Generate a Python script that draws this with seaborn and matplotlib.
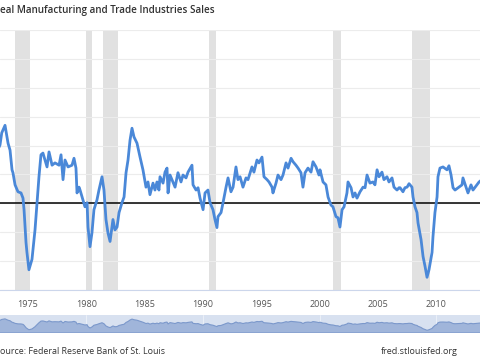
import numpy as np
import pandas as pd
import seaborn as sns
import matplotlib.pyplot as plt

# percent change from year ago
years = [1972.40, 1972.60, 1972.75, 1973.03, 1973.20, 1973.29, 1973.46, 1973.63, 1973.71, 1973.89,
         1974.14, 1974.40, 1974.57, 1974.66, 1974.83, 1974.91, 1975.08, 1975.34, 1975.60, 1975.77,
         1975.94, 1976.11, 1976.28, 1976.63, 1976.80, 1977.06, 1977.31, 1977.66, 1977.83, 1978.00,
         1978.17, 1978.43, 1978.77, 1978.94, 1979.11, 1979.20, 1979.37, 1979.46, 1979.71, 1979.88,
         1980.06, 1980.14, 1980.31, 1980.48, 1980.65, 1980.91, 1981.08, 1981.34, 1981.51, 1981.68,
         1981.85, 1982.03, 1982.20, 1982.28, 1982.45, 1982.63, 1982.80, 1983.05, 1983.23, 1983.40,
         1983.57, 1983.74, 1983.91, 1984.08, 1984.34, 1984.60, 1984.85, 1985.11, 1985.28, 1985.45,
         1985.71, 1985.88, 1986.05, 1986.22, 1986.31, 1986.57, 1986.74, 1986.91, 1987.00, 1987.17,
         1987.42, 1987.60, 1987.85, 1988.11, 1988.28, 1988.54, 1988.71, 1989.05, 1989.14, 1989.40,
         1989.57, 1989.74, 1990.00, 1990.17, 1990.42, 1990.60, 1990.85, 1991.02, 1991.19, 1991.28,
         1991.54, 1991.71, 1991.97, 1992.14, 1992.39, 1992.57, 1992.82, 1992.99, 1993.17, 1993.42,
         1993.68, 1993.85, 1994.19, 1994.36, 1994.62, 1994.79, 1995.05, 1995.22, 1995.48, 1995.65,
         1995.91, 1995.99, 1996.25, 1996.42, 1996.68, 1996.85, 1997.11, 1997.28, 1997.54, 1997.71,
         1997.96, 1998.14, 1998.39, 1998.56, 1998.74, 1998.99, 1999.25, 1999.42, 1999.68, 1999.93,
         2000.02, 2000.28, 2000.53, 2000.71, 2000.96, 2001.13, 2001.39, 2001.56, 2001.73, 2001.91,
         2002.08, 2002.33, 2002.42, 2002.68, 2002.85, 2003.02, 2003.19, 2003.45, 2003.71, 2003.88,
         2004.05, 2004.30, 2004.56, 2004.73, 2004.91, 2005.08, 2005.33, 2005.50, 2005.76, 2005.93,
         2006.19, 2006.36, 2006.62, 2006.79, 2006.88, 2007.13, 2007.30, 2007.48, 2007.65, 2007.90,
         2007.99, 2008.16, 2008.33, 2008.42, 2008.68, 2008.85, 2009.02, 2009.19, 2009.36, 2009.62,
         2009.70, 2009.87, 2010.05, 2010.13, 2010.30, 2010.56, 2010.90, 2011.07, 2011.25, 2011.42,
         2011.59, 2011.85, 2012.19, 2012.27, 2012.53, 2012.70, 2012.96, 2013.13, 2013.47, 2013.65,
         2013.90]
pct_change = [9.2, 10.1, 12.2, 13.5, 11.5, 10.4, 9.2, 5.8, 5.3, 3.2,
              2.0, 1.8, 0.9, -1.1, -6.8, -8.5, -11.5, -9.7, -4.6, 0.1,
              4.6, 8.4, 8.7, 6.3, 8.9, 6.6, 7.0, 6.6, 8.4, 4.1,
              7.5, 6.3, 6.6, 7.8, 6.1, 1.8, 2.8, 2.3, 0.6, -0.6,
              0.1, -4.1, -7.5, -5.1, -1.1, 0.6, 2.3, 4.6, 2.3, -2.8,
              -5.1, -6.6, -4.1, -2.8, -4.6, -4.1, -1.6, 0.1, 1.1, 5.3,
              7.5, 10.9, 13.0, 11.5, 10.4, 8.0, 5.8, 2.8, 3.7, 1.5,
              3.5, 2.3, 3.7, 2.3, 4.6, 3.5, 5.4, 6.1, 1.8, 4.9,
              3.7, 2.8, 5.3, 3.7, 4.9, 4.4, 5.4, 6.6, 3.2, 2.3,
              2.7, 0.9, -1.1, 1.8, 2.3, 0.1, -1.1, -2.8, -4.2, -2.3,
              -1.6, 0.1, 2.8, 4.4, 2.0, 2.8, 6.3, 4.1, 4.6, 2.8,
              4.4, 4.1, 6.3, 5.4, 7.5, 7.0, 8.0, 4.6, 4.1, 3.7,
              2.8, 1.8, 3.5, 4.9, 4.1, 4.9, 7.0, 6.1, 7.8, 7.2,
              6.6, 6.1, 5.3, 2.8, 5.3, 6.1, 5.4, 7.2, 6.3, 4.9,
              5.8, 3.7, 3.2, 1.1, -0.3, -0.6, -2.3, -2.5, -4.1, -1.1,
              -0.6, 1.8, 3.7, 2.7, 1.1, 1.8, 0.9, 2.0, 2.8, 2.7,
              4.9, 3.5, 3.7, 3.2, 5.8, 4.6, 5.4, 4.1, 4.6, 3.7,
              4.4, 2.8, 2.3, 2.7, 2.7, 2.0, 2.7, 2.8, 3.4, 2.8,
              1.1, -0.6, -1.6, -3.4, -6.3, -9.2, -10.9, -12.8, -11.5, -8.5,
              -5.8, -1.6, 1.1, 4.6, 6.1, 6.3, 5.8, 6.5, 4.9, 2.7,
              2.3, 2.7, 3.2, 4.4, 2.8, 1.8, 3.2, 2.3, 3.2, 3.7,
              4.1]

recession_start = [1973.85, 1980.0, 1981.45, 1990.5, 2001.12, 2007.9]
recession_end = [1975.15, 1980.45, 1982.75, 1991.1, 2001.8, 2009.45]

tick_years = [1975, 1980, 1985, 1990, 1995, 2000, 2005, 2010]
grid_levels = [-15, -10, -5, 0, 5, 10, 15, 20, 25, 30]

df = pd.DataFrame({'date': years, 'value': pct_change})

sns.set_style('white')
plt.rcParams['font.family'] = ['Open Sans', 'DejaVu Sans']

fig = plt.figure(figsize=(4.8, 3.56), dpi=100)
ax = fig.add_axes([0.0, 1 - 290 / 356, 1.0, 260 / 356])

for s, e in zip(recession_start, recession_end):
    ax.axvspan(s, e, color='#e1e1e1', lw=0, zorder=0)
for g in grid_levels:
    ax.axhline(g, color='#ececec', lw=0.8, zorder=0.5)
ax.axhline(0, color='black', lw=1.1, zorder=2)

sns.lineplot(data=df, x='date', y='value', ax=ax, color='#4a88d8', lw=2.0, zorder=3)

ax.set_xlim(1972.6, 2013.73)
ax.set_ylim(-15, 30)
ax.set_xticks(tick_years)
ax.set_xticklabels([str(y) for y in tick_years])
ax.set_yticks([])
ax.set_xlabel('')
ax.set_ylabel('')
for side in ['left', 'right', 'top']:
    ax.spines[side].set_visible(False)
ax.spines['bottom'].set_color('#ccd6eb')
ax.tick_params(axis='x', length=4, color='#ccd6eb', labelsize=6.5, labelcolor='#555555', pad=3)

# navigator strip
nav = fig.add_axes([0.0, 1 - 333 / 356, 1.0, 18 / 356])
nav.set_facecolor('#d8e1f0')
nav.fill_between(years, -19, pct_change, color='#a0b5da', lw=0.8, edgecolor='#7b98cb')
for y in [1980, 1990, 2000, 2010]:
    nav.axvline(y, color='#eef2f9', lw=0.6, zorder=0.5)
nav.set_xlim(1972.6, 2013.73)
nav.set_ylim(-19, 22.4)
nav.set_xticks([])
nav.set_yticks([])
for side in nav.spines:
    nav.spines[side].set_visible(False)

fig.text(0.0, 1 - 10 / 356, 'eal Manufacturing and Trade Industries Sales', fontsize=7.1,
         fontweight='semibold', color='#333333', ha='left', va='center')
fig.text(0.0, 1 - 351 / 356, 'ource: Federal Reserve Bank of St. Louis', fontsize=6.4,
         color='#333333', ha='left', va='center')
fig.text(458 / 480, 1 - 351 / 356, 'fred.stlouisfed.org', fontsize=6.5,
         color='#333333', ha='right', va='center')

fig.savefig('out.png', dpi=100)
